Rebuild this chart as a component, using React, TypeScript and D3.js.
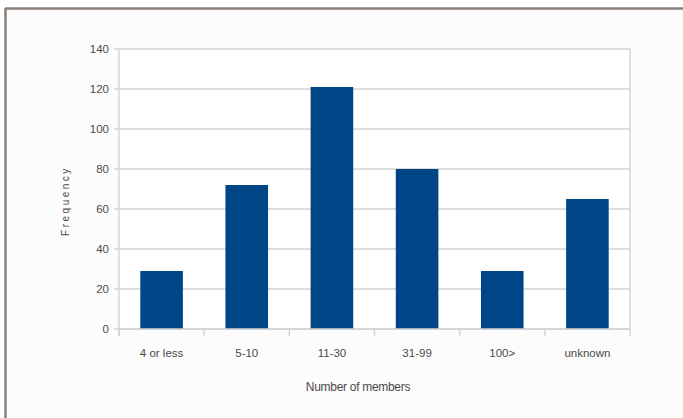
import React from "react";
import * as d3 from "d3";

// Survey responses grouped by group size
const categories: string[] = ["4 or less", "5-10", "11-30", "31-99", "100>", "unknown"];
const frequencies: number[] = [29, 72, 121, 80, 29, 65];
const yTicks: number[] = [0, 20, 40, 60, 80, 100, 120, 140];

const W = 683;
const H = 418;
const plot = { left: 119, right: 630, top: 49, bottom: 329 };

const FONT = "'Liberation Sans', Arial, sans-serif";
const TEXT = "#4a4a4a";
const GRID = "#d3d3d3";
const BAR = "#004586";

export default function App() {
  const x = d3
    .scaleBand<string>()
    .domain(categories)
    .range([plot.left, plot.right])
    .paddingInner(0.5)
    .paddingOuter(0.25);
  const band = d3.scaleBand<string>().domain(categories).range([plot.left, plot.right]);
  const y = d3.scaleLinear().domain([0, 140]).range([plot.bottom, plot.top]);

  const boundaries = categories.map((c) => band(c) as number).concat([plot.right]);

  return (
    <svg
      width={W}
      height={H}
      style={{ position: "fixed", left: 0, top: 0, display: "block" }}
      fontFamily={FONT}
    >
      <rect x={0} y={0} width={W} height={H} fill="#ffffff" />
      <rect x={6} y={9} width={W - 6} height={H - 9} fill="#fcfcfc" />
      {/* outer frame, top and left edges */}
      <line x1={5} x2={W} y1={8.5} y2={8.5} stroke="#8a7f79" strokeWidth={2.5} />
      <line x1={5.5} x2={5.5} y1={8} y2={H} stroke="#8a7f79" strokeWidth={2.5} />

      <rect
        x={plot.left}
        y={plot.top}
        width={plot.right - plot.left}
        height={plot.bottom - plot.top}
        fill="#ffffff"
      />

      {/* horizontal grid lines */}
      {yTicks.map((t) => (
        <line
          key={"g" + t}
          x1={plot.left}
          x2={plot.right}
          y1={y(t)}
          y2={y(t)}
          stroke={GRID}
          strokeWidth={1.4}
        />
      ))}
      {/* right edge of plot */}
      <line x1={plot.right} x2={plot.right} y1={plot.top} y2={plot.bottom} stroke={GRID} strokeWidth={1.4} />

      {/* bars */}
      {categories.map((c, i) => (
        <rect
          key={c}
          x={x(c)}
          y={y(frequencies[i])}
          width={x.bandwidth()}
          height={y(0) - y(frequencies[i])}
          fill={BAR}
        />
      ))}

      {/* y axis */}
      <line x1={plot.left} x2={plot.left} y1={plot.top} y2={plot.bottom + 7} stroke={GRID} strokeWidth={1.4} />
      {yTicks.map((t) => (
        <g key={"y" + t}>
          <line x1={plot.left - 5} x2={plot.left} y1={y(t)} y2={y(t)} stroke={GRID} strokeWidth={1.4} />
          <text
            x={plot.left - 10}
            y={y(t)}
            dy="0.36em"
            textAnchor="end"
            fontSize={11.5}
            fill={TEXT}
          >
            {t}
          </text>
        </g>
      ))}

      {/* x axis */}
      <line x1={plot.left} x2={plot.right} y1={plot.bottom} y2={plot.bottom} stroke={GRID} strokeWidth={1.4} />
      {boundaries.map((b, i) => (
        <line key={"t" + i} x1={b} x2={b} y1={plot.bottom} y2={plot.bottom + 7} stroke={GRID} strokeWidth={1.4} />
      ))}
      {categories.map((c) => (
        <text
          key={"xl" + c}
          x={(band(c) as number) + band.bandwidth() / 2}
          y={357}
          textAnchor="middle"
          fontSize={11.5}
          fill={TEXT}
        >
          {c}
        </text>
      ))}

      {/* axis titles */}
      <text x={358} y={391} textAnchor="middle" fontSize={12} fill={TEXT} letterSpacing={-0.3}>
        Number of members
      </text>
      <text
        transform={`translate(69, ${(plot.top + plot.bottom) / 2 + 12}) rotate(-90)`}
        textAnchor="middle"
        fontSize={10}
        fill={TEXT}
        letterSpacing={2.5}
      >
        Frequency
      </text>
    </svg>
  );
}
